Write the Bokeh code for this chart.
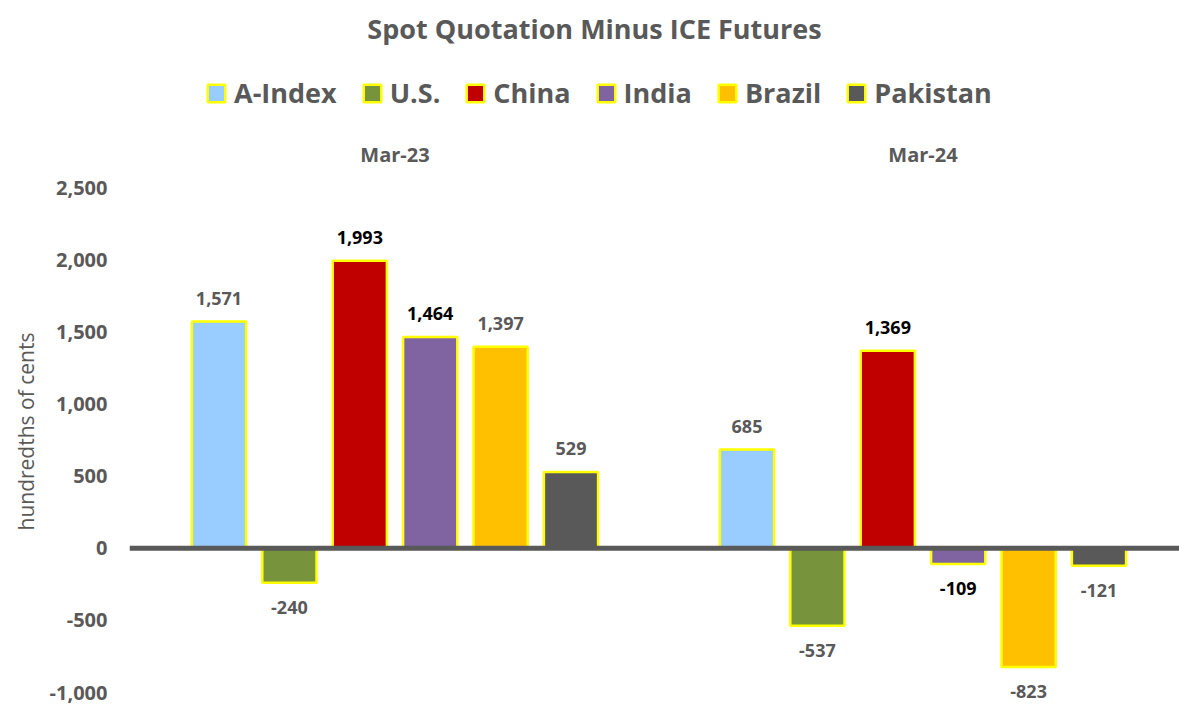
from bokeh.plotting import figure
from bokeh.models import (ColumnDataSource, Legend, LegendItem, Span, Label,
                          Title, FixedTicker, NumeralTickFormatter)
from bokeh.core.properties import value
from bokeh.embed import file_html
from bokeh.resources import INLINE

# ---------------- data ----------------
periods = ["Mar-23", "Mar-24"]
series = ["A-Index", "U.S.", "China", "India", "Brazil", "Pakistan"]
mar23 = [1571, -240, 1993, 1464, 1397, 529]
mar24 = [685, -537, 1369, -109, -823, -121]
colors = ["#99CCFF", "#77933C", "#C00000", "#8064A2", "#FFC000", "#595959"]
label_colors = ["#595959", "#595959", "#000000", "#000000", "#595959", "#595959"]
y_ticks = [-1000, -500, 0, 500, 1000, 1500, 2000, 2500]
title_text = "Spot Quotation Minus ICE Futures"
y_title = "hundredths of cents"

# ---------------- layout constants ----------------
W, H = 1179, 707
FRAME_LEFT = 129          # px
TOP_TICK_PX = 187         # screen y of 2500
BOTTOM_TICK_PX = 692      # screen y of -1000
K = (BOTTOM_TICK_PX - TOP_TICK_PX) / (y_ticks[-1] - y_ticks[0])  # px per y unit
SLOT = 70.4               # px per x unit (bar slot)
GROUP_STEP = 7.5          # x units between groups
X0_SCREEN = 218.5         # screen x of first bar centre
X_START = (FRAME_LEFT - X0_SCREEN) / SLOT
X_END = X_START + (W - FRAME_LEFT) / SLOT
Y_END = y_ticks[-1] + TOP_TICK_PX / K
Y_START = Y_END - H / K

GREY = "#595959"
FONT = "Open Sans"


def x_at(sx):
    return X_START + (sx - FRAME_LEFT) / SLOT


def y_at(sy):
    return Y_END - sy / K


p = figure(width=W, height=H, output_backend="svg", toolbar_location=None,
           x_range=(X_START, X_END), y_range=(Y_START, Y_END),
           x_axis_location=None, min_border_left=FRAME_LEFT,
           min_border_right=0, min_border_top=0, min_border_bottom=0)
p.outline_line_color = None
p.xgrid.visible = False
p.ygrid.visible = False
p.background_fill_color = "white"
p.border_fill_color = "white"

yax = p.yaxis[0]
yax.ticker = FixedTicker(ticks=y_ticks)
yax.formatter = NumeralTickFormatter(format="0,0")
yax.axis_line_color = None
yax.major_tick_line_color = None
yax.minor_tick_line_color = None
yax.major_tick_out = 0
yax.major_tick_in = 0
yax.major_label_standoff = 22
yax.major_label_text_font = FONT
yax.major_label_text_font_style = "bold"
yax.major_label_text_font_size = "20px"
yax.major_label_text_color = GREY

values_by_period = [mar23, mar24]
items = []
lab_x, lab_y, lab_t, lab_c = [], [], [], []
for s, name in enumerate(series):
    xs = [g * GROUP_STEP + s for g in range(len(periods))]
    tops = [values_by_period[g][s] for g in range(len(periods))]
    src = ColumnDataSource(dict(x=xs, top=tops))
    r = p.vbar(x="x", top="top", bottom=0, width=0.77, source=src,
               fill_color=colors[s], line_color="#FFFF00", line_width=2.5)
    items.append(LegendItem(label=name, renderers=[r]))
    for x, v in zip(xs, tops):
        lab_x.append(x)
        lab_y.append(v + (23 / K if v >= 0 else -25 / K))
        lab_t.append(f"{v:,}")
        lab_c.append(label_colors[s])

p.add_layout(Span(location=0, dimension="width", line_color=GREY, line_width=5))

lsrc = ColumnDataSource(dict(x=lab_x, y=lab_y, t=lab_t, c=lab_c))
p.text(x="x", y="y", text="t", source=lsrc, text_color="c",
       text_align="center", text_baseline="middle",
       text_font=value(FONT), text_font_style="bold", text_font_size="18px")

gsrc = ColumnDataSource(dict(x=[g * GROUP_STEP + 2.5 for g in range(len(periods))],
                             y=[y_at(154)] * len(periods), t=periods))
p.text(x="x", y="y", text="t", source=gsrc, text_color=GREY,
       text_align="center", text_baseline="middle",
       text_font=value(FONT), text_font_style="bold", text_font_size="20px")

p.add_layout(Label(x=x_at(594), y=y_at(28), text=title_text,
                   text_align="center", text_baseline="middle",
                   text_font=FONT, text_font_style="bold",
                   text_font_size="27px", text_color=GREY))

p.add_layout(Title(text=y_title, align="left", offset=177, standoff=14,
                   text_font=FONT, text_font_style="normal",
                   text_font_size="21px", text_color=GREY), "left")

legend = Legend(items=items, orientation="horizontal", location=(76, 596),
                glyph_width=22, glyph_height=22, label_standoff=7, spacing=24,
                padding=0, margin=0, border_line_color=None,
                background_fill_alpha=0,
                label_text_font=FONT, label_text_font_style="bold",
                label_text_font_size="27px", label_text_color=GREY)
p.add_layout(legend)

open("out.html", "w").write(file_html(p, INLINE))
